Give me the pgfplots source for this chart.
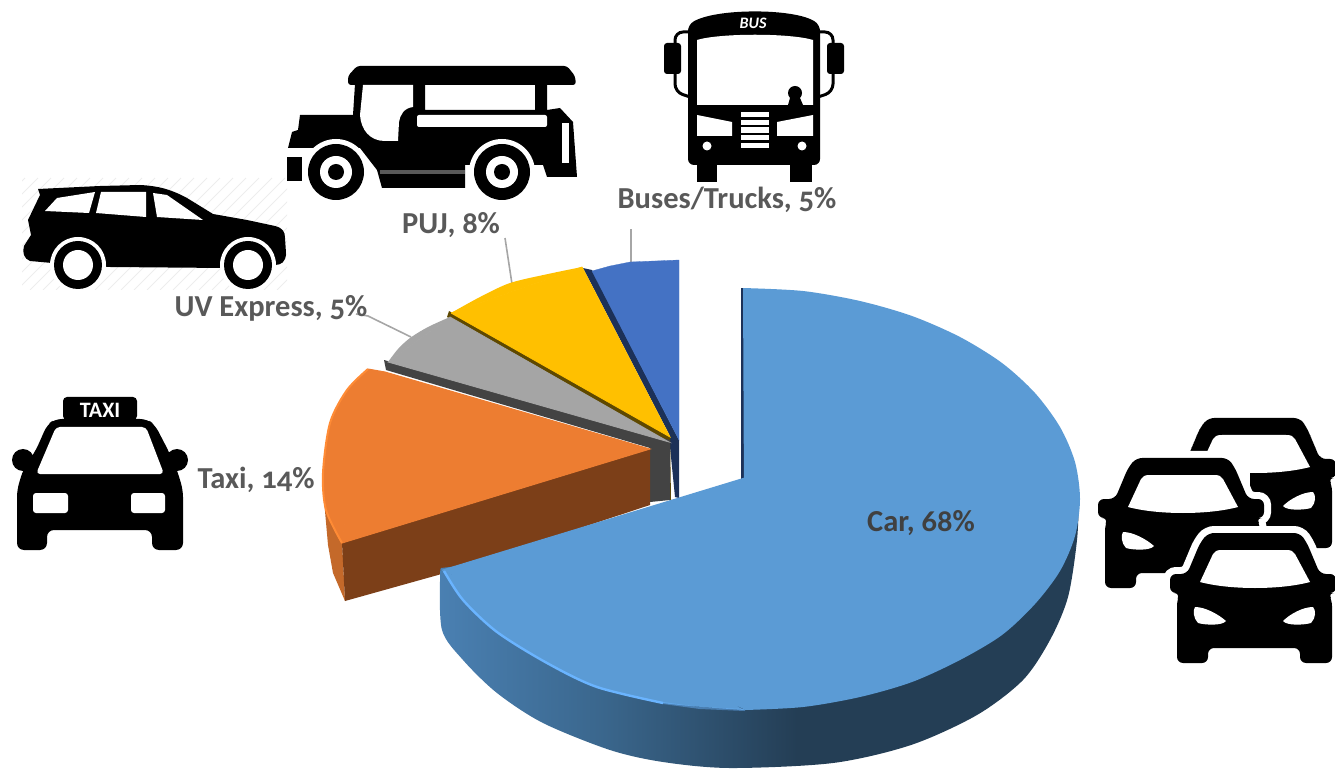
\documentclass[border=0pt]{standalone}
\usepackage{pgfplots}
\pgfplotsset{compat=1.18}
\usepackage{fontspec}
\setmainfont[Numbers=OldStyle]{Carlito}
\definecolor{carc}{HTML}{5B9BD5}
\definecolor{taxi}{HTML}{ED7D31}
\definecolor{taxid}{HTML}{7C3F18}
\definecolor{taxis}{HTML}{C4692A}
\definecolor{rimo}{HTML}{FF8B35}
\definecolor{uvc}{HTML}{A5A5A5}
\definecolor{uvd}{HTML}{434343}
\definecolor{pujc}{HTML}{FFC000}
\definecolor{pujd}{HTML}{5E4800}
\definecolor{busc}{HTML}{4472C4}
\definecolor{busd}{HTML}{1C3158}
\definecolor{leader}{HTML}{A6A6A6}
\definecolor{lab}{HTML}{595959}
\definecolor{labd}{HTML}{404040}
\definecolor{rimb}{HTML}{6AB4FF}
\definecolor{sa}{HTML}{4A80B2}
\definecolor{sb}{HTML}{3A668C}
\definecolor{sc}{HTML}{243E55}
\pgfdeclarehorizontalshading{carside}{100bp}{color(0bp)=(sa); color(25bp)=(sa); color(38bp)=(sb); color(53bp)=(sc); color(100bp)=(sc)}
\newcommand\carshape[3]{%
\begin{scope}[shift={(#1,#2)}]
\path[draw=white,line width=#3pt,fill=black,rounded corners=6pt]
 (1177,663)--(1177,600)--(1180,593)--(1170,593)--(1170,574)--(1187,574)--(1200,543)--(1208,533)--(1300,533)--(1307,543)--(1320,574)--(1336,574)--(1336,593)--(1328,593)--(1332,600)--(1332,663)--(1300,663)--(1300,648)--(1208,648)--(1208,663)--cycle;
\fill[black,rounded corners=6pt]
 (1177,663)--(1177,600)--(1180,593)--(1170,593)--(1170,574)--(1187,574)--(1200,543)--(1208,533)--(1300,533)--(1307,543)--(1320,574)--(1336,574)--(1336,593)--(1328,593)--(1332,600)--(1332,663)--(1300,663)--(1300,648)--(1208,648)--(1208,663)--cycle;
\fill[white] (1200,582) -- (1213,554) .. controls (1215,551) and (1217,550) .. (1222,550) -- (1286,550) .. controls (1291,550) and (1293,551) .. (1295,554) -- (1310,582) .. controls (1280,590) and (1230,590) .. (1200,582) -- cycle;
\fill[white] (1195,607) .. controls (1205,607) and (1218,614) .. (1226,621) .. controls (1222,626) and (1205,625) .. (1198,623) .. controls (1193,618) and (1193,610) .. (1195,607) -- cycle;
\fill[white] (1313,607) .. controls (1303,607) and (1290,614) .. (1283,621) .. controls (1287,626) and (1304,625) .. (1311,623) .. controls (1316,618) and (1316,610) .. (1313,607) -- cycle;
\end{scope}}
\begin{document}
\begin{tikzpicture}
\path[use as bounding box] (0,0) rectangle (1335pt,769pt);
\begin{axis}[at={(0pt,0pt)},anchor=south west,width=1335pt,height=769pt,scale only axis,hide axis,
  xmin=0,xmax=1335,ymin=0,ymax=769,y dir=reverse]
% leader lines
\addplot[leader,line width=1.6pt] coordinates {(356,314)(368,316)(411,337)};
\addplot[leader,line width=1.6pt] coordinates {(505,238)(512,284)};
\addplot[leader,line width=1.6pt] coordinates {(631,229)(631,262)};
% Buses/Trucks, 5%
\addplot[fill=busd,draw=none] coordinates {(583,268)(670,436)(670,447)(675,497)(679,498)(679,440)(592,270)(583,268)};
\addplot[fill=busc,draw=busc,line width=0.3pt] coordinates {(592,271)(610,266)(630,262)(655,261)(679,260)(679,440)(592,271)};
% PUJ, 8%
\addplot[fill=pujd,draw=none] coordinates {(449,311)(670,436)(671,500)(669,500)(669,447)(447,317)(449,311)};
\addplot[fill=pujc,draw=none,smooth,tension=0.5] coordinates {(451,313)(480,297)(510,283)(548,274)(582,267)};
\addplot[fill=pujc,draw=pujc,line width=0.8pt] coordinates {(451,313)(582,267)(670,437)(451,313)};
% UV Express, 5%
\addplot[fill=uvd,draw=none] coordinates {(384,360)(386,370)(650,448)(650,502)(670,500)(670,440)(384,360)};
\addplot[fill=uvc,draw=none,smooth,tension=0.5] coordinates {(450,317)(428,327)(410,338)(398,349)(388,362)};
\addplot[fill=uvc,draw=uvc,line width=0.8pt] coordinates {(450,317)(388,362)(669,442)(450,317)};
% Taxi, 14%
\addplot[fill=taxis,draw=none] coordinates {(324,500)(328,545)(333,573)(345,601)(342,540)(324,500)};
\addplot[fill=taxid,draw=none] coordinates {(342,543)(345,601)(438,575)(650,505)(650,449)(342,543)};
\addplot[fill=taxi,draw=none,smooth,tension=0.5] coordinates {(368,369)(347,390)(330,423)(323,473)(326,510)(342,543)};
\addplot[fill=taxi,draw=taxi,line width=1pt] coordinates {(368,369)(385,372)(650,449)(342,543)(368,369)};
\addplot[taxi,line width=2.5pt] coordinates {(366,375)(344,538)};
\addplot[rimo,line width=2pt,smooth,tension=0.5] coordinates {(368,369)(347,390)(330,423)(323,473)(326,510)(342,543)};
% Car, 68%
\addplot[draw=none,shading=carside,smooth,tension=0.5] coordinates {(1079,495)(1077,540)(1068,597)(1050,640)(1023,680)(977,715)(911,745)(833,763)(730,768)(663,762)(610,750)(543,723)(497,693)(463,660)(442,630)(440,577)(441,568)};
\addplot[draw=none,fill=busd] coordinates {(741,288)(744,288)(746,480)(741,480)(741,288)};
\addplot[fill=carc,draw=none,smooth,tension=0.5] coordinates {(743,288)(803,291)(860,301)(912,316)(960,337)(1002,363)(1035,393)(1060,427)(1075,462)(1080,499)(1075,536)(1060,571)(1035,604)(1002,635)(960,660)(912,682)(860,697)(803,707)(745,710)};
\addplot[fill=carc,draw=none,smooth,tension=0.5] coordinates {(745,710)(663,703)(597,687)(547,663)(497,632)(463,600)(442,570)};
\addplot[fill=carc,draw=carc,line width=1.2pt] coordinates {(745,478)(745,709)(443,570)(745,478)};
\addplot[carc,line width=3pt] coordinates {(738,706)(452,574)};
\addplot[carc,line width=3pt] coordinates {(745,484)(745,704)};
\addplot[rimb,line width=2.4pt,smooth,tension=0.5] coordinates {(444,571)(463,600)(497,632)(547,663)(597,687)(663,703)};
\addplot[rimb,line width=2pt,opacity=0.45] coordinates {(663,703)(700,708)(745,710)};
% labels
\node[text=labd,font=\fontsize{30.5}{33}\selectfont\bfseries] at (axis cs:921,523) {Car, 68\%};
\node[text=lab,font=\fontsize{30.5}{33}\selectfont\bfseries] at (axis cs:256,480) {Taxi, 14\%};
\node[text=lab,font=\fontsize{30.5}{33}\selectfont\bfseries] at (axis cs:271,308) {UV Express, 5\%};
\node[text=lab,font=\fontsize{30.5}{33}\selectfont\bfseries] at (axis cs:451,225) {PUJ, 8\%};
\node[text=lab,font=\fontsize{30.5}{33}\selectfont\bfseries] at (axis cs:727,200) {Buses/Trucks, 5\%};
\end{axis}
\begin{scope}[x=1pt,y=-1pt,yshift=769pt]
\clip (0,0) rectangle (1335,769);
% hatch behind the SUV
\begin{scope}
\clip (22,178) rectangle (287,290);
\foreach \x in {-100,-87,...,290} \draw[black!7,line width=1pt] (\x,290)--({\x+112},178);
\end{scope}
% SUV
\fill[black] (38,189) -- (100,186) -- (140,185) .. controls (160,186) and (172,190) .. (187,198) -- (213,214) -- (247,220) -- (275,226) .. controls (283,228) and (285,232) .. (285,238) -- (286,253) .. controls (286,262) and (281,265) .. (275,265) -- (225,268) -- (110,267) -- (52,263) -- (30,261) .. controls (24,259) and (22,252) .. (24,246) -- (31,235) -- (28,220) -- (40,195) -- cycle;
\fill[white] (78,265) circle[radius=28];
\fill[white] (248,265) circle[radius=28];
\fill[black] (78,265) circle[radius=24];
\fill[black] (248,265) circle[radius=24];
\fill[white] (78,265) circle[radius=15];
\fill[white] (248,265) circle[radius=15];
\fill[white] (45,211) -- (57,198) -- (95,192) -- (89,213) -- cycle;
\fill[white] (101,192) -- (146,192) -- (146,217) -- (96,213) -- cycle;
\fill[white] (153,193) -- (167,195) -- (203,220) -- (157,217) -- cycle;
% taxi
\fill[black,rounded corners=4pt] (63,420) -- (63,397) -- (137,397) -- (137,420) -- cycle;
\fill[black,rounded corners=7pt] (17,550) -- (17,490) -- (23,470) -- (36,450) -- (47,425) -- (55,419) -- (147,419) -- (155,425) -- (168,450) -- (177,470) -- (183,490) -- (183,550) -- (152,550) -- (152,530) -- (47,530) -- (47,550) -- cycle;
\fill[black] (23,460) circle[radius=11];
\fill[black] (177,460) circle[radius=11];
\fill[white,rounded corners=4pt] (56,427) -- (146,427) -- (164,474) -- (36,474) -- cycle;
\fill[white,rounded corners=3pt] (33,493) rectangle (68,513);
\fill[white,rounded corners=3pt] (131,493) rectangle (165,513);
\node[white,font=\fontsize{22}{22}\selectfont\bfseries] at (100,410.5) {TAXI};
% jeepney
\fill[black,rounded corners=3pt] (348,85) -- (348,76) -- (357,66) -- (567,66) -- (575,76) -- (576,85) -- cycle;
\fill[black] (300,115) -- (353,115) -- (355,84) -- (425,84) -- (425,110) -- (535,110) -- (535,84) -- (547,84) -- (547,110) -- (560,108) -- (573,122) -- (577,177) -- (547,177) -- (543,165) -- (465,165) -- (465,188) -- (382,188) -- (377,170) -- (360,148) -- (288,148) -- (292,132) -- (298,130) -- cycle;
\fill[black] (287,157) rectangle (302,181);
\fill[white] (363,85) -- (413,85) -- (413,107) .. controls (404,108) and (400,115) .. (399,122) -- (398,141) -- (385,141) .. controls (370,141) and (361,130) .. (360,115) -- cycle;
\fill[white,rounded corners=2pt] (417,115) rectangle (547,127);
\fill[white] (562,123) rectangle (569,163);
\fill[black!65] (380,170) rectangle (465,174);
\fill[white] (336,172) circle[radius=33];
\fill[white] (502,172) circle[radius=33];
\fill[black] (336,172) circle[radius=28];
\fill[black] (502,172) circle[radius=28];
\fill[white] (336,172) circle[radius=16];
\fill[white] (502,172) circle[radius=16];
\fill[black] (336,172) circle[radius=8];
\fill[black] (502,172) circle[radius=8];
% bus
\draw[black,line width=3pt,rounded corners=8pt] (690,32) -- (675,32) -- (675,92) -- (690,97);
\draw[black,line width=3pt,rounded corners=8pt] (818,32) -- (833,32) -- (833,92) -- (818,97);
\fill[black,rounded corners=3pt] (664,43) rectangle (681,74);
\fill[black,rounded corners=3pt] (827,43) rectangle (844,74);
\fill[black] (697,150) rectangle (717,182);
\fill[black] (790,150) rectangle (812,182);
\fill[black,rounded corners=6pt] (688,165) -- (688,25) .. controls (715,8) and (795,8) .. (820,25) -- (820,165) -- cycle;
\fill[white] (697,40) .. controls (720,33) and (790,33) .. (813,40) -- (813,105) -- (697,105) -- cycle;
\fill[black] (795,93) circle[radius=7];
\fill[black] (788,105) -- (790,98) -- (800,98) -- (803,105) -- cycle;
\fill[white] (697,115) -- (732,122) -- (732,136) -- (697,136) -- cycle;
\fill[white] (813,115) -- (777,122) -- (777,136) -- (813,136) -- cycle;
\fill[white] (741,112) rectangle (769,117);
\fill[white] (741,120) rectangle (769,125);
\fill[white] (741,127) rectangle (769,133);
\fill[white] (741,135) rectangle (769,140);
\fill[white] (741,143) rectangle (769,148);
\fill[white] (707,146) circle[radius=4.5];
\fill[white] (802,146) circle[radius=4.5];
\node[white,font=\fontsize{16}{16}\selectfont\bfseries\itshape] at (753,23) {BUS};
% traffic
\carshape{0}{-115}{0}
\fill[white] (1150,452) rectangle (1250,540);
\carshape{-72}{-75}{14}
\carshape{0}{0}{14}
\end{scope}
\end{tikzpicture}
\end{document}
